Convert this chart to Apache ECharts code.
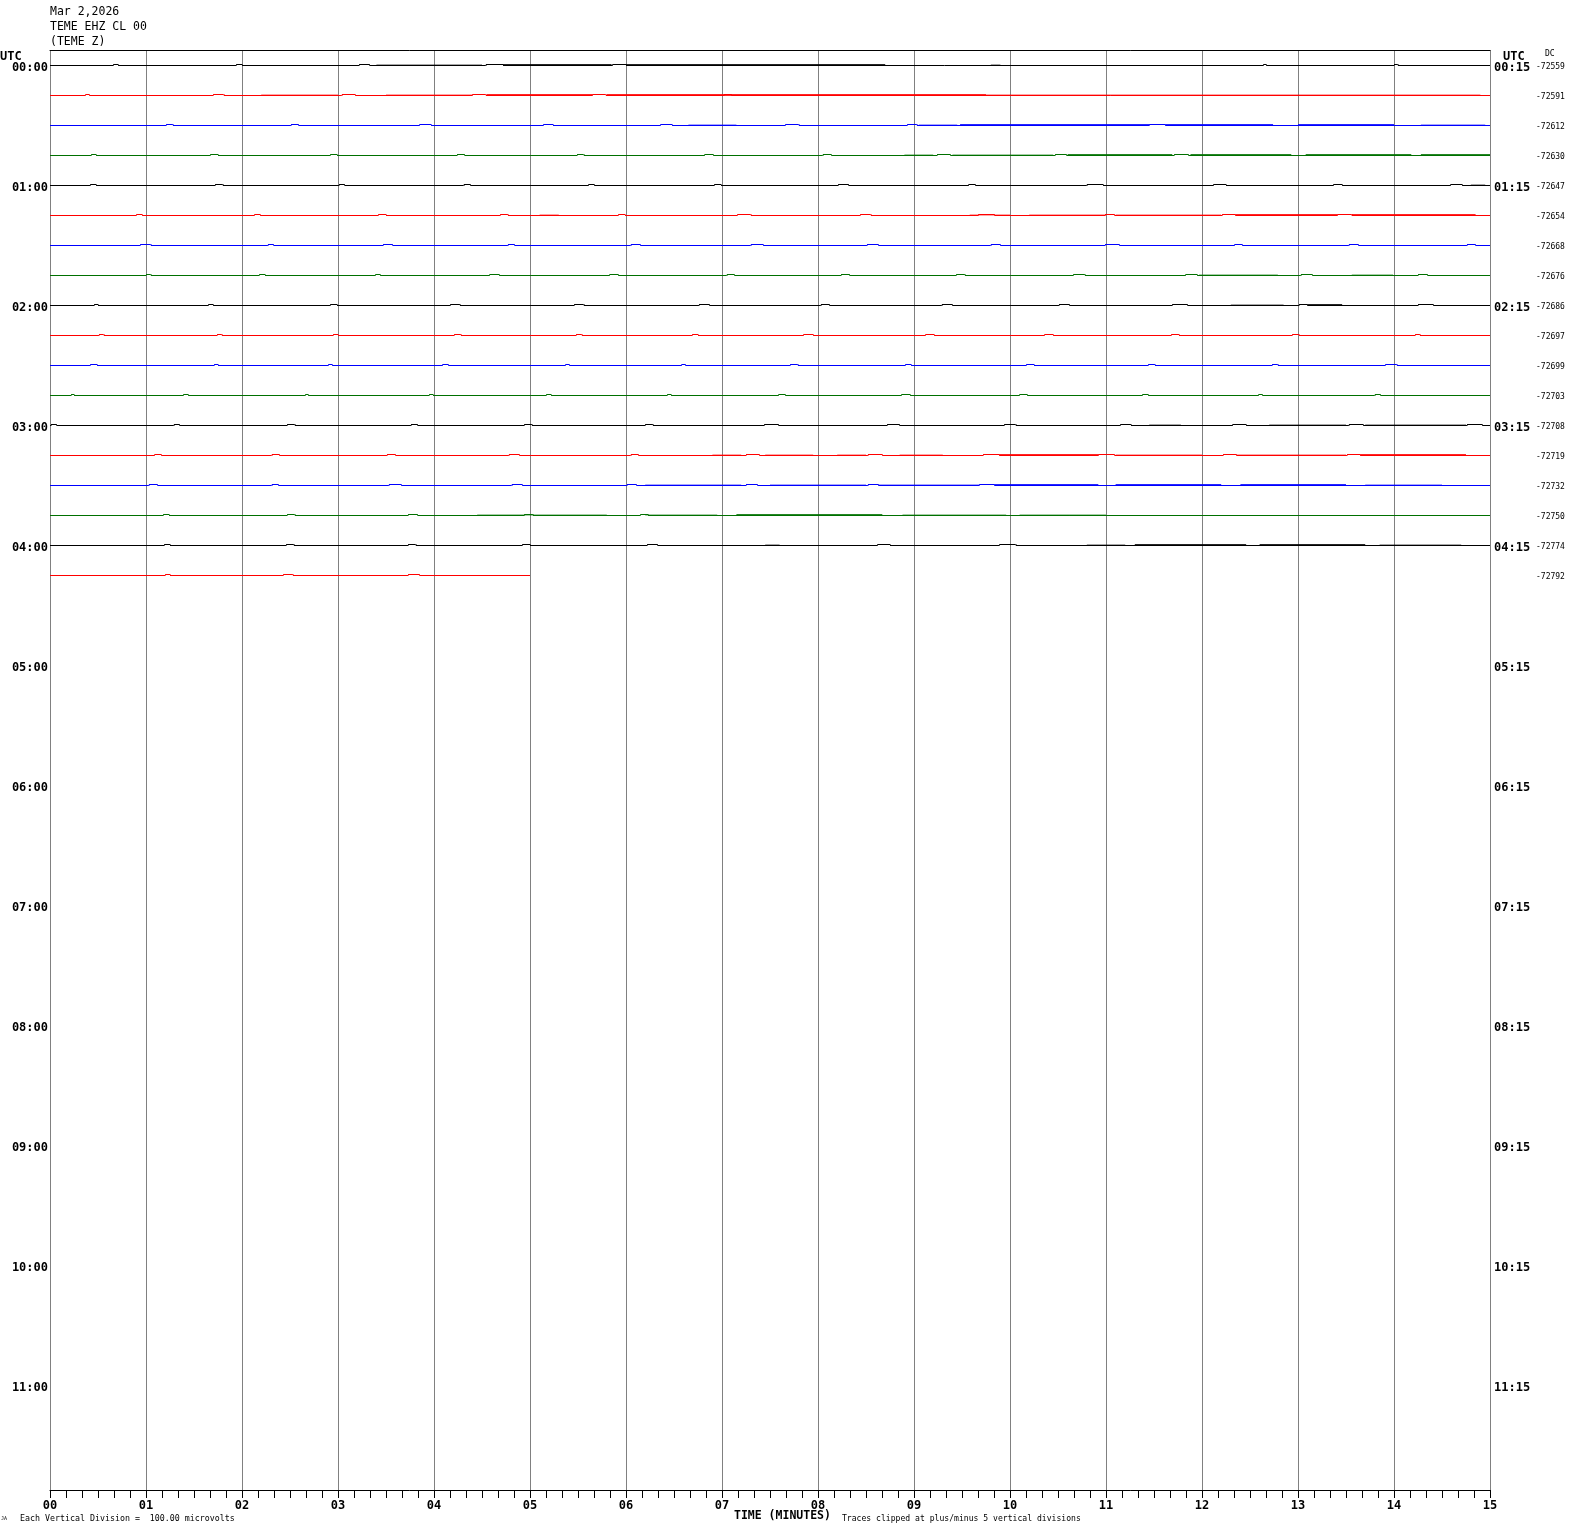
<!DOCTYPE html>
<html><head><meta charset="utf-8">
<script src="https://cdn.jsdelivr.net/npm/echarts@6/dist/echarts.min.js"></script>
<style>html,body{margin:0;padding:0;background:#fff}#c{width:1570px;height:1534px}</style>
</head><body><div id="c"></div>
<script>
// ---- data (minutes within each 15-minute row) ----
const headerLines = ['Mar 2,2026', 'TEME EHZ CL 00', '(TEME Z)'];
const hourLabelsLeft = ['00:00','01:00','02:00','03:00','04:00','05:00','06:00','07:00','08:00','09:00','10:00','11:00'];
const hourLabelsRight = ['00:15','01:15','02:15','03:15','04:15','05:15','06:15','07:15','08:15','09:15','10:15','11:15'];
const dcValues = ['-72559','-72591','-72612','-72630','-72647','-72654','-72668','-72676','-72686','-72697','-72699','-72703','-72708','-72719','-72732','-72750','-72774','-72792'];
const minuteLabels = ['00','01','02','03','04','05','06','07','08','09','10','11','12','13','14','15'];
const traceColors = ['#000000', '#ff0000', '#0000ff', '#007000'];
const rowEnds = [15,15,15,15,15,15,15,15,15,15,15,15,15,15,15,15,15,5];

// small pulses [start, end] (1 step up)
const bumps00 = [[0.66,0.71],[1.94,2.0],[3.22,3.33],[4.54,4.72],[5.86,6.0],[12.64,12.67],[14.0,14.04]];
const bumps01 = [[0.37,0.41],[1.70,1.81],[3.04,3.18],[4.40,4.54],[5.65,5.79],[7.02,7.1]];
const bumps02 = [[1.21,1.28],[2.51,2.59],[3.85,3.97],[5.14,5.24],[6.36,6.48],[7.66,7.80],[8.93,9.03],[11.45,11.62]];
const bumps03 = [[0.43,0.48],[1.67,1.75],[2.92,2.99],[4.24,4.32],[5.49,5.56],[6.82,6.91],[8.05,8.14],[9.24,9.38],[10.47,10.59],[11.71,11.86]];
const bumps04 = [[0.42,0.48],[1.72,1.80],[3.01,3.07],[4.31,4.38],[5.61,5.67],[6.92,6.99],[8.21,8.32],[9.57,9.64],[10.80,10.97],[12.12,12.25],[13.37,13.46],[14.59,14.71]];
const bumps05 = [[0.90,0.96],[2.13,2.19],[3.42,3.50],[4.69,4.77],[5.92,5.99],[7.16,7.30],[8.44,8.55],[9.67,9.84],[10.99,11.09],[12.21,12.35],[13.41,13.56]];
const bumps06 = [[0.94,1.05],[2.27,2.33],[3.47,3.57],[4.77,4.84],[6.05,6.15],[7.30,7.43],[8.51,8.63],[9.80,9.90],[10.99,11.14],[12.34,12.42],[13.53,13.63],[14.76,14.85]];
const bumps07 = [[1.0,1.05],[2.18,2.24],[3.39,3.44],[4.58,4.68],[5.83,5.92],[7.05,7.13],[8.24,8.33],[9.44,9.53],[10.66,10.78],[11.83,11.95],[13.03,13.15],[14.25,14.35]];
const bumps08 = [[0.46,0.50],[1.65,1.70],[2.92,2.99],[4.17,4.27],[5.46,5.56],[6.76,6.87],[8.03,8.12],[9.29,9.40],[10.51,10.62],[11.69,11.85],[13.01,13.10],[14.25,14.41]];
const bumps09 = [[0.51,0.56],[1.74,1.79],[2.95,3.0],[4.21,4.28],[5.48,5.54],[6.69,6.75],[7.85,7.95],[9.12,9.21],[10.36,10.45],[11.68,11.76],[12.94,13.01],[14.22,14.27]];
const bumps10 = [[0.42,0.49],[1.71,1.75],[2.90,2.94],[4.09,4.15],[5.37,5.41],[6.58,6.62],[7.71,7.79],[8.91,8.97],[10.17,10.25],[11.44,11.51],[12.73,12.79],[13.91,14.03]];
const bumps11 = [[0.22,0.25],[1.39,1.44],[2.66,2.69],[3.95,3.99],[5.17,5.22],[6.43,6.47],[7.59,7.66],[8.87,8.96],[10.10,10.18],[11.38,11.44],[12.59,12.63],[13.80,13.86]];
const bumps12 = [[0.01,0.07],[1.29,1.35],[2.47,2.55],[3.76,3.83],[4.94,5.02],[6.20,6.28],[7.44,7.59],[8.72,8.85],[9.94,10.06],[11.15,11.26],[12.32,12.46],[13.53,13.68],[14.76,14.92]];
const bumps13 = [[1.09,1.16],[2.31,2.39],[3.51,3.60],[4.78,4.89],[6.05,6.13],[7.25,7.39],[8.52,8.67],[9.72,9.89],[10.92,11.09],[12.22,12.36],[13.51,13.65]];
const bumps14 = [[1.03,1.12],[2.31,2.38],[3.53,3.66],[4.81,4.92],[6.01,6.11],[7.25,7.37],[8.52,8.63],[9.68,9.84]];
const bumps15 = [[1.18,1.24],[2.47,2.55],[3.73,3.83],[4.94,5.03],[6.15,6.23]];
const bumps16 = [[1.19,1.25],[2.46,2.54],[3.73,3.81],[4.92,5.0],[6.22,6.33],[8.62,8.75],[9.89,10.06]];
const bumps17 = [[1.20,1.25],[2.43,2.53],[3.73,3.85]];

// noisy stretches [start, end, level] (1 = sparse, 2 = dense)
const noise00 = [[3.4,4.5,1],[4.72,5.85,2],[6.0,8.7,2],[9.8,9.9,1]];
const noise01 = [[2.2,3.0,1],[3.5,4.4,1],[4.55,5.65,2],[5.8,7.0,2],[7.0,9.75,2],[9.75,14.9,1]];
const noise02 = [[6.65,7.15,1],[9.05,9.45,1],[9.48,11.45,2],[11.62,12.74,2],[13.0,14.0,2],[14.28,14.95,1]];
const noise03 = [[8.9,9.2,1],[9.4,10.45,1],[10.6,11.69,2],[11.88,12.93,2],[13.08,14.18,2],[14.28,15,2]];
const noise04 = [[14.8,14.95,1]];
const noise05 = [[5.1,5.3,1],[9.58,10.0,1],[10.2,11.0,1],[11.1,12.2,1],[12.35,13.41,2],[13.56,14.85,2]];
const noise06 = [];
const noise07 = [[11.97,12.79,1],[13.56,13.99,1]];
const noise08 = [[12.3,12.85,1],[13.1,13.46,2]];
const noise09 = [];
const noise10 = [];
const noise11 = [];
const noise12 = [[11.45,11.78,1],[12.7,13.5,1],[13.7,14.75,1]];
const noise13 = [[6.9,7.2,1],[7.45,7.95,1],[8.2,8.5,1],[8.85,9.3,1],[9.89,10.92,2],[11.1,12.0,1],[12.36,13.5,1],[13.65,14.75,2]];
const noise14 = [[6.2,7.2,1],[7.5,8.5,1],[8.63,9.68,1],[9.84,10.92,2],[11.1,12.2,2],[12.4,13.5,2],[13.7,14.5,1]];
const noise15 = [[4.45,5.8,1],[6.2,6.95,1],[7.15,8.67,2],[8.88,9.96,1],[10.1,11.0,1]];
const noise16 = [[7.45,7.6,1],[10.8,11.2,1],[11.30,12.46,2],[12.6,13.7,2],[13.85,14.7,1]];
const noise17 = [];

const allBumps = [bumps00,bumps01,bumps02,bumps03,bumps04,bumps05,bumps06,bumps07,bumps08,bumps09,bumps10,bumps11,bumps12,bumps13,bumps14,bumps15,bumps16,bumps17];
const allNoise = [noise00,noise01,noise02,noise03,noise04,noise05,noise06,noise07,noise08,noise09,noise10,noise11,noise12,noise13,noise14,noise15,noise16,noise17];

// ---- build: each trace as horizontal segments (baseline + raised pulses) ----
const ROW = 30; // value units between rows (1 unit = 1 px)
const series = [];
allBumps.forEach((bl, k) => {
  const base = -ROW * k;
  const color = traceColors[k % 4];
  const segs = [];
  let cur = 0;
  bl.forEach(([s, e]) => {
    if (s > cur) segs.push({ coords: [[cur, base], [s, base]] });
    segs.push({ coords: [[s, base + 1], [e, base + 1]] });
    cur = e;
  });
  if (rowEnds[k] > cur) segs.push({ coords: [[cur, base], [rowEnds[k], base]] });
  // vertical edges of pulses
  bl.forEach(([s, e]) => {
    segs.push({ coords: [[s, base], [s, base + 1]] });
    segs.push({ coords: [[e, base], [e, base + 1]] });
  });
  allNoise[k].forEach(([s, e, lvl]) => {
    segs.push({ coords: [[s, base + 0.5], [e, base + 0.5]],
      lineStyle: { width: 2, opacity: lvl === 2 ? 0.85 : 0.35 } });
  });
  series.push({ type: 'lines', coordinateSystem: 'cartesian2d', polyline: false, data: segs,
    silent: true, animation: false, z: 3, lineStyle: { color: color, width: 1, opacity: 1, curveness: 0 } });
});

const mono = 'DejaVu Sans Mono';
const hourVals = hourLabelsLeft.map((_, i) => -120 * i);
const dcVals = dcValues.map((_, i) => -ROW * i);
const Y_MIN = -1424.5, Y_MAX = 15.5;
const richLabel = { a: { padding: [4, 0, 0, 0], fontFamily: mono, fontWeight: 'bold', fontSize: 12, color: '#000' } };
const richDc = { a: { padding: [2, 0, 0, 0], fontFamily: mono, fontSize: 8, color: '#000' } };

const option = {
  animation: false,
  backgroundColor: '#ffffff',
  grid: { left: 50, right: 80, top: 50, bottom: 44, containLabel: false },
  xAxis: [{
    type: 'value', min: 0, max: 15, interval: 1, position: 'bottom',
    axisLine: { show: true, onZero: false, lineStyle: { color: '#000', width: 1 } },
    axisTick: { show: true, inside: false, length: 8, lineStyle: { color: '#000' } },
    minorTick: { show: true, splitNumber: 6, length: 8, lineStyle: { color: '#000' } },
    splitLine: { show: true, lineStyle: { color: '#808080', width: 1 } },
    axisLabel: { margin: 10, color: '#000', fontFamily: mono, fontWeight: 'bold', fontSize: 12,
      formatter: v => minuteLabels[Math.round(v)] }
  }, {
    type: 'value', min: 0, max: 15, position: 'top',
    axisLine: { show: true, onZero: false, lineStyle: { color: '#000', width: 1 } },
    axisTick: { show: false }, axisLabel: { show: false }, splitLine: { show: false }
  }],
  yAxis: [{
    type: 'value', min: Y_MIN, max: Y_MAX, position: 'left',
    axisLine: { show: false }, axisTick: { show: false }, splitLine: { show: false },
    axisLabel: { show: true, customValues: hourVals, margin: 2, rich: richLabel,
      formatter: v => '{a|' + hourLabelsLeft[Math.round(-v / 120)] + '}' }
  }, {
    type: 'value', min: Y_MIN, max: Y_MAX, position: 'right',
    axisLine: { show: false }, axisTick: { show: false }, splitLine: { show: false },
    axisLabel: { show: true, customValues: hourVals, margin: 4, rich: richLabel,
      formatter: v => '{a|' + hourLabelsRight[Math.round(-v / 120)] + '}' }
  }, {
    type: 'value', min: Y_MIN, max: Y_MAX, position: 'right', offset: 45,
    axisLine: { show: false }, axisTick: { show: false }, splitLine: { show: false },
    axisLabel: { show: true, customValues: dcVals, margin: 1, rich: richDc,
      formatter: v => '{a|' + dcValues[Math.round(-v / ROW)] + '}' }
  }],
  graphic: [
    { type: 'text', left: 50, top: 6, style: { text: headerLines[0], font: '11.5px "DejaVu Sans Mono"', fill: '#000' } },
    { type: 'text', left: 50, top: 21, style: { text: headerLines[1], font: '11.5px "DejaVu Sans Mono"', fill: '#000' } },
    { type: 'text', left: 50, top: 36, style: { text: headerLines[2], font: '11.5px "DejaVu Sans Mono"', fill: '#000' } },
    { type: 'text', left: 0, top: 51, style: { text: 'UTC', font: 'bold 12px "DejaVu Sans Mono"', fill: '#000' } },
    { type: 'text', left: 1503, top: 51, style: { text: 'UTC', font: 'bold 12px "DejaVu Sans Mono"', fill: '#000' } },
    { type: 'text', left: 1545, top: 50, style: { text: 'DC', font: '8px "DejaVu Sans Mono"', fill: '#000' } },
    { type: 'text', left: 1, top: 1516, style: { text: 'JA', font: '5px "DejaVu Sans Mono"', fill: '#000' } },
    { type: 'text', left: 20, top: 1515, style: { text: 'Each Vertical Division =  100.00 microvolts', font: '8.3px "DejaVu Sans Mono"', fill: '#000' } },
    { type: 'text', left: 734, top: 1510, style: { text: 'TIME (MINUTES)', font: 'bold 11.5px "DejaVu Sans Mono"', fill: '#000' } },
    { type: 'text', left: 842, top: 1515, style: { text: 'Traces clipped at plus/minus 5 vertical divisions', font: '8.1px "DejaVu Sans Mono"', fill: '#000' } }
  ],
  series: series
};
const chart = echarts.init(document.getElementById('c'), null, { renderer: 'canvas' });
chart.setOption(option);
</script></body></html>
